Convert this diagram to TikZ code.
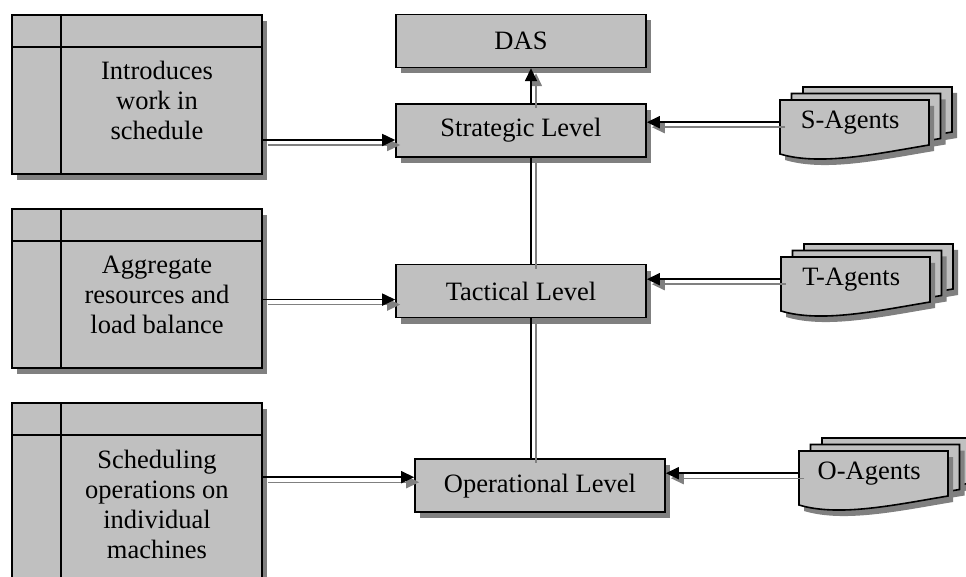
\documentclass[tikz,border=0pt]{standalone}
\usepackage{fontspec}
\setmainfont{Liberation Serif}
\usepackage{xcolor}
\usepackage{tikz}
\usetikzlibrary{arrows.meta, positioning, shadows}

\definecolor{boxgray}{HTML}{C0C0C0}
\definecolor{shadegray}{HTML}{808080}
% text of a storage box sits right of the side strip
\newcommand{\storetext}[1]{\hspace{40pt}\raisebox{-9pt}[\height][\depth]{\begin{tabular}{@{}c@{}}#1\end{tabular}}}

\begin{document}
\begin{tikzpicture}[
  x=1pt, y=-1pt,
  boxshadow/.style={drop shadow={shadow xshift=5pt, shadow yshift=-6pt, fill=shadegray, opacity=1}},
  level/.style={draw, line width=1.6pt, fill=boxgray, boxshadow, minimum width=250pt,
                minimum height=53pt, inner sep=0pt, font=\fontsize{26.5pt}{30pt}\selectfont},
  store/.style={draw, line width=1.6pt, fill=boxgray, boxshadow, minimum width=250pt,
                minimum height=159pt, inner sep=0pt, font=\fontsize{26.5pt}{30pt}\selectfont,
                path picture={
                  \draw[line width=1.6pt] ([xshift=49pt]path picture bounding box.north west)
                    -- ([xshift=49pt]path picture bounding box.south west);
                  \draw[line width=1.6pt] ([yshift=-32pt]path picture bounding box.north west)
                    -- ([yshift=-32pt]path picture bounding box.north east);}},
  page/.style={draw, line width=1.6pt, fill=boxgray, boxshadow},
  agent/.style={anchor=north west, minimum width=140pt, minimum height=44pt, inner sep=0pt,
                font=\fontsize{26.5pt}{30pt}\selectfont},
  agentstack/.pic={
    \foreach \d in {2,1,0}
      \path[page, shift={(11.5*\d,-6.5*\d)}] (0,0) -- (149,0) -- (149,45)
        .. controls (95,54) and (40,66) .. (0,54) -- cycle;},
  link/.style={black, line width=1.6pt},
  ghost/.style={shadegray, line width=1.4pt, transform canvas={shift={(5pt,-5pt)}}},
  arr/.style={-{Triangle[length=13pt, width=12pt]}}]
\useasboundingbox (0,0) rectangle (966,577);
\clip (0,0) rectangle (966,577);

% levels
\node[level] (strategic) at (521,130.5) {Strategic Level};
\node[level, above=35pt of strategic] (das) {DAS};
\node[level, below=106pt of strategic] (tactical) {Tactical Level};
\node[level, below=140pt of tactical, xshift=19pt] (operational) {Operational Level};

% what each level does
\node[store] (store1) at (137,94.5) {\storetext{Introduces\\work in\\schedule}};
\node[store] (store2) at (137,288.5) {\storetext{Aggregate\\resources and\\load balance}};
\node[store, minimum height=190pt] (store3) at (137,498)
  {\storetext{Scheduling\\operations on\\individual\\machines}};

% agents
\pic at (780,100) {agentstack};
\node[agent] (sagents) at (780,100) {S-Agents};
\pic at (781,257) {agentstack};
\node[agent] (tagents) at (781,257) {T-Agents};
\pic at (799,451) {agentstack};
\node[agent] (oagents) at (799,451) {O-Agents};

% connectors, shadow first
\coordinate (up) at ([xshift=10pt]strategic.north);
\coordinate (down) at ([xshift=10pt]strategic.south);
\coordinate (in-s) at ([yshift=-9.5pt]strategic.west);
\coordinate (in-t) at ([yshift=-8.5pt]tactical.west);
\coordinate (in-o) at ([yshift=8.5pt]operational.west);
\foreach \look in {ghost, link} {
  \draw[arr, \look] (up) -- (das.south -| up);
  \draw[\look] (down) -- (tactical.north -| down);
  \draw[\look] (tactical.south -| down) -- (operational.north -| down);
  \draw[arr, \look] (store1.east |- in-s) -- (in-s);
  \draw[arr, \look] (store2.east |- in-t) -- (in-t);
  \draw[arr, \look] (store3.east |- in-o) -- (in-o);
  \draw[arr, \look] (sagents.west) -- (sagents.west -| strategic.east);
  \draw[arr, \look] (tagents.west) -- (tagents.west -| tactical.east);
  \draw[arr, \look] (oagents.west) -- (oagents.west -| operational.east);
}
\end{tikzpicture}
\end{document}
